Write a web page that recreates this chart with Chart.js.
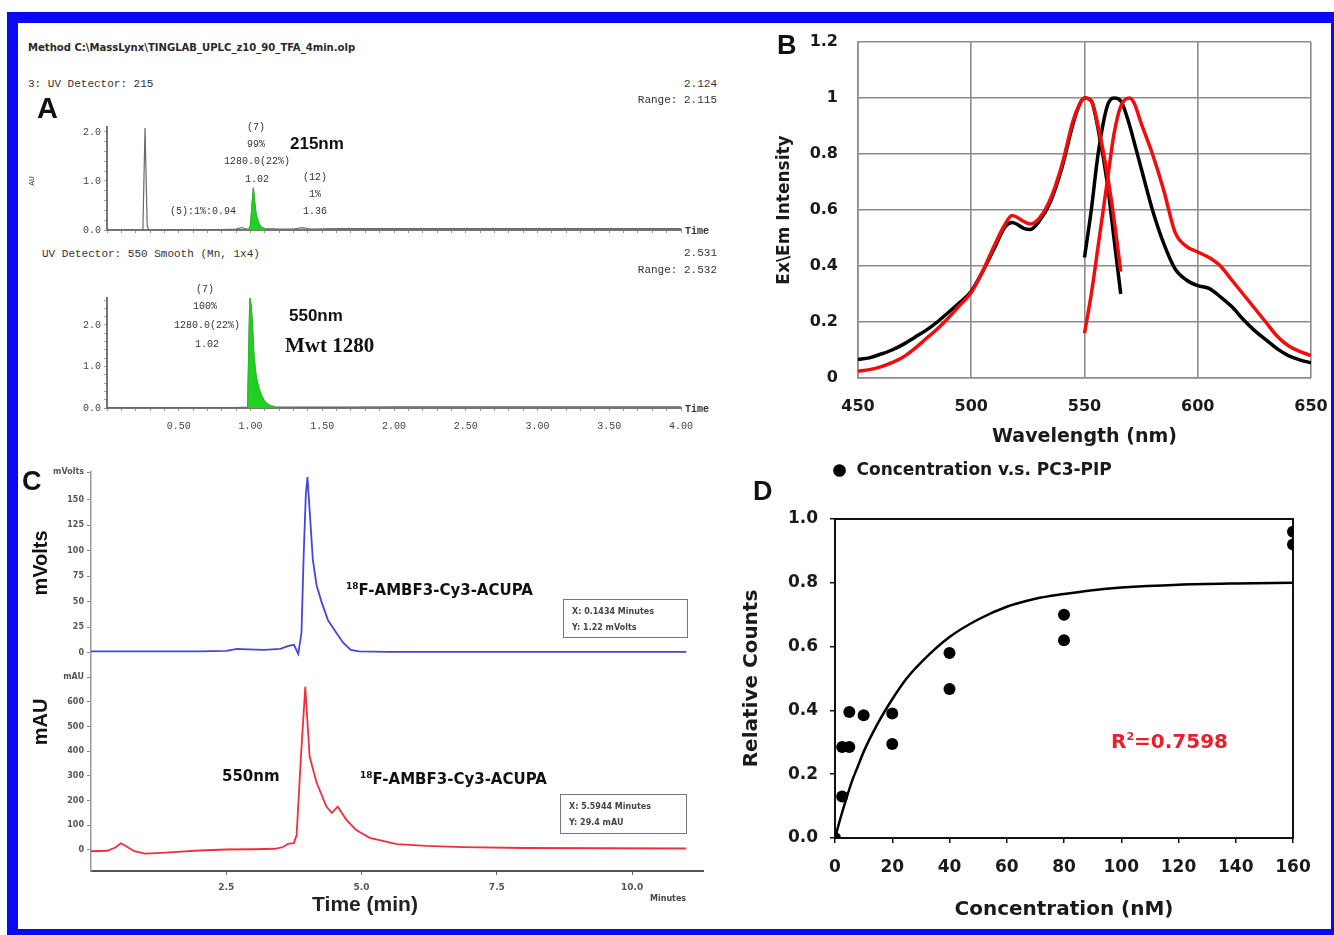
<!DOCTYPE html>
<html>
<head>
<meta charset="utf-8">
<script src="https://cdn.jsdelivr.net/npm/chart.js@4.4.1/dist/chart.umd.min.js"></script>
<style>
  html,body{margin:0;padding:0;background:#fff;}
  body{width:1334px;height:935px;position:relative;overflow:hidden;font-family:"Liberation Sans",Arial,sans-serif;}
  .frame{position:absolute;left:7px;top:12px;width:1327px;height:923px;box-sizing:border-box;border-style:solid;border-color:#0a0af0;border-width:11px 3px 6px 11px;z-index:5;pointer-events:none;}
  canvas{position:absolute;}
  .t{position:absolute;white-space:nowrap;line-height:1;z-index:3;}
  .box{position:absolute;border:1.5px solid #777;box-sizing:border-box;z-index:3;}
</style>
</head>
<body>
<div class="frame"></div>
<script>
// ---------------- DATA ----------------
// Panel A : UPLC, UV 215 nm trace (time in min, AU)
const a215Time = [0, 0.25, 0.265, 0.28, 0.29, 0.4, 0.6, 0.8, 0.9, 0.94, 0.97, 0.99, 1.00, 1.01, 1.02, 1.03, 1.04, 1.06, 1.08, 1.10, 1.2, 1.3, 1.36, 1.42, 1.6, 2.0, 2.5, 3.0, 3.5, 4.0];
const a215Abs  = [0, 0, 2.08, 0.10, 0, 0.01, 0.01, 0.01, 0.02, 0.05, 0.02, 0.02, 0.10, 0.50, 0.86, 0.55, 0.30, 0.12, 0.05, 0.03, 0.02, 0.02, 0.05, 0.02, 0.03, 0.03, 0.03, 0.03, 0.03, 0.03];
// Panel A : UV 550 nm trace
const a550Time = [0, 0.5, 0.9, 0.98, 0.995, 1.005, 1.015, 1.025, 1.04, 1.06, 1.08, 1.10, 1.13, 1.17, 1.3, 1.6, 2.0, 2.5, 3.0, 3.5, 4.0];
const a550Abs  = [0.01, 0.01, 0.01, 0.02, 2.65, 2.45, 1.90, 1.20, 0.75, 0.45, 0.28, 0.15, 0.07, 0.03, 0.02, 0.02, 0.03, 0.03, 0.03, 0.03, 0.03];
const aTimeTickLabels = ['0.50', '1.00', '1.50', '2.00', '2.50', '3.00', '3.50', '4.00'];
const aAbsTickLabels = ['0.0', '1.0', '2.0'];

// Panel B : excitation / emission spectra
const bExWl = [450,455,460,465,470,475,480,485,490,495,500,505,510,515,518,520,523,526,530,535,540,545,548,550,553,556,560,563,566];
const bExBlack = [0.066,0.072,0.085,0.10,0.12,0.145,0.17,0.20,0.235,0.27,0.31,0.38,0.46,0.54,0.555,0.55,0.535,0.53,0.56,0.63,0.75,0.91,0.98,1.0,0.99,0.89,0.70,0.50,0.30];
const bExRed   = [0.024,0.03,0.04,0.055,0.075,0.105,0.14,0.175,0.215,0.26,0.305,0.38,0.47,0.55,0.58,0.575,0.56,0.55,0.57,0.64,0.76,0.92,0.98,1.0,0.99,0.90,0.73,0.57,0.38];
const bEmWl = [550,553,556,560,563,566,570,572,575,580,585,590,595,600,605,610,615,620,625,630,635,640,645,650];
const bEmBlack = [0.43,0.60,0.80,0.97,1.0,0.99,0.90,0.84,0.75,0.60,0.48,0.39,0.35,0.33,0.32,0.29,0.255,0.21,0.17,0.137,0.105,0.08,0.065,0.054];
const bEmRed   = [0.16,0.30,0.47,0.70,0.87,0.97,1.0,0.98,0.91,0.80,0.67,0.52,0.47,0.45,0.43,0.40,0.35,0.30,0.25,0.20,0.15,0.115,0.095,0.08];

// Panel C : radio-HPLC (mVolts) and UV 550 nm (mAU)
const cBlueTime = [0, 0.5, 1.0, 1.5, 2.0, 2.5, 2.7, 2.9, 3.2, 3.5, 3.65, 3.75, 3.83, 3.89, 3.93, 3.97, 4.0, 4.04, 4.1, 4.17, 4.26, 4.38, 4.53, 4.66, 4.8, 4.95, 5.5, 6.5, 8.0, 9.5, 11.0];
const cBlueMv   = [1.5, 1.5, 1.5, 1.5, 1.5, 2, 4, 3.5, 3, 4, 7, 8, -1, 20, 95, 155, 172, 140, 91, 66, 50, 32, 20, 10, 3, 1.5, 1, 1, 1, 1, 1];
const cRedTime = [0, 0.3, 0.45, 0.55, 0.65, 0.8, 1.0, 1.3, 1.6, 2.0, 2.5, 3.0, 3.4, 3.55, 3.64, 3.75, 3.8, 3.88, 3.96, 4.04, 4.17, 4.35, 4.45, 4.56, 4.72, 4.9, 5.15, 5.65, 6.2, 6.87, 8.0, 9.5, 11.0];
const cRedMau  = [-5, -3, 10, 27, 15, -5, -15, -12, -8, -2, 2, 3, 5, 12, 25, 28, 60, 380, 660, 378, 272, 176, 150, 175, 122, 81, 49, 24, 17, 12, 8, 7, 6];
const cMvTicks = [0, 25, 50, 75, 100, 125, 150];
const cMauTicks = [0, 100, 200, 300, 400, 500, 600];
const cTimeTicks = [2.5, 5.0, 7.5, 10.0];

// Panel D : binding data and fitted curve
const dConc   = [0, 2.5, 2.5, 5, 5, 10, 20, 20, 40, 40, 80, 80, 160, 160];
const dCounts = [0, 0.13, 0.285, 0.285, 0.395, 0.385, 0.39, 0.295, 0.58, 0.467, 0.70, 0.62, 0.96, 0.92];
const dFitConc   = [0, 2, 4, 6, 8, 10, 15, 20, 25, 30, 40, 50, 60, 70, 80, 90, 100, 120, 140, 160];
const dFitCounts = [0, 0.065, 0.125, 0.18, 0.225, 0.27, 0.36, 0.435, 0.50, 0.55, 0.63, 0.685, 0.725, 0.75, 0.765, 0.777, 0.785, 0.794, 0.798, 0.80];

// ---------------- HELPERS ----------------
const xy = (xs, ys) => xs.map((x, i) => ({x: x, y: ys[i]}));
const steps = (n, d) => Array.from({length: n + 1}, (_, i) => +(i * d).toFixed(3)); // minor tick positions
function mkCanvas(left, top, w, h) {
  const c = document.createElement('canvas');
  c.width = w; c.height = h;
  c.style.left = left + 'px'; c.style.top = top + 'px';
  c.style.width = w + 'px'; c.style.height = h + 'px';
  document.body.appendChild(c);
  return c.getContext('2d');
}
function T(html, x, y, anchor, css, rot) {
  const d = document.createElement('div');
  d.className = 't';
  d.innerHTML = html;
  d.style.cssText += 'left:' + x + 'px;top:' + y + 'px;' + (css || '');
  const tx = anchor === 'l' ? '0' : (anchor === 'r' ? '-100%' : '-50%');
  d.style.transform = 'translate(' + tx + ',-50%)' + (rot ? ' rotate(-90deg)' : '');
  document.body.appendChild(d);
}
function Box(x, y, w, h, lines) {
  const b = document.createElement('div');
  b.className = 'box';
  b.style.left = x + 'px'; b.style.top = y + 'px'; b.style.width = w + 'px'; b.style.height = h + 'px';
  document.body.appendChild(b);
  lines.forEach((s, i) => T(s, x + 9, y + 13 + i * 16, 'l', SMALLB));
}
const fixW = w => s => { s.width = w; };
const fixH = h => s => { s.height = h; };
const setTicks = vals => s => { s.ticks = vals.map(v => ({value: v})); };
const base = {responsive: false, animation: false, devicePixelRatio: 1, maintainAspectRatio: false,
  plugins: {legend: {display: false}, tooltip: {enabled: false}}};
const MONO = "font-family:'Liberation Mono','DejaVu Sans Mono',monospace;font-size:11px;color:#333;";
const MONOS = "font-family:'Liberation Mono','DejaVu Sans Mono',monospace;font-size:10px;color:#333;";
const SMALLB = "font-family:'DejaVu Sans',sans-serif;font-weight:bold;font-size:8px;color:#444;";
const DJB = "font-family:'DejaVu Sans',sans-serif;font-weight:bold;color:#111;";
const ARB = "font-family:'Liberation Sans',Arial,sans-serif;font-weight:bold;color:#111;";
const monoFont = {family: "'Liberation Mono', 'DejaVu Sans Mono', monospace", size: 10};

// ---------------- PANEL A (UPLC) ----------------
const aAxis = (extra) => Object.assign({
  type: 'linear',
  border: {display: true, color: '#777', width: 2},
  grid: {drawOnChartArea: false, drawTicks: true, tickLength: 3, color: '#9a9a9a', lineWidth: 1}
}, extra);
const aTimeLabel = v => { const s = v.toFixed(2); return aTimeTickLabels.includes(s) ? s : ''; };
const aAbsLabel = v => { const s = v.toFixed(1); return aAbsTickLabels.includes(s) ? s : ''; };

const a1Ctx = mkCanvas(20, 100, 710, 145);
new Chart(a1Ctx, {
  type: 'line',
  data: {datasets: [
    {data: xy(a215Time, a215Abs).filter(p => p.x >= 0.99 && p.x <= 1.10), borderColor: '#1fc41f', backgroundColor: '#22d022', borderWidth: 1, fill: 'origin', pointRadius: 0},
    {data: xy(a215Time, a215Abs), borderColor: '#6a6a6a', borderWidth: 1.2, fill: false, pointRadius: 0}
  ]},
  options: Object.assign({}, base, {
    layout: {padding: {top: 27, right: 49, left: 0, bottom: 0}},
    scales: {
      x: aAxis({min: 0, max: 4, afterFit: fixH(15), afterBuildTicks: setTicks(steps(40, 0.1)),
        ticks: {display: false, autoSkip: false}}),
      y: aAxis({min: 0, max: 2.1, afterFit: fixW(87), afterBuildTicks: setTicks(steps(10, 0.2)),
        ticks: {autoSkip: false, font: monoFont, color: '#444', padding: 3, callback: aAbsLabel}})
    }
  })
});

const a2Ctx = mkCanvas(20, 280, 710, 160);
new Chart(a2Ctx, {
  type: 'line',
  data: {datasets: [
    {data: xy(a550Time, a550Abs).filter(p => p.x >= 0.98 && p.x <= 1.17), borderColor: '#1fc41f', backgroundColor: '#22d022', borderWidth: 1, fill: 'origin', pointRadius: 0},
    {data: xy(a550Time, a550Abs), borderColor: '#6a6a6a', borderWidth: 1.2, fill: false, pointRadius: 0}
  ]},
  options: Object.assign({}, base, {
    layout: {padding: {top: 18, right: 49, left: 0, bottom: 0}},
    scales: {
      x: aAxis({min: 0, max: 4, afterFit: fixH(32), afterBuildTicks: setTicks(steps(40, 0.1)),
        ticks: {autoSkip: false, maxRotation: 0, minRotation: 0, font: monoFont, color: '#444', padding: 9, callback: aTimeLabel}}),
      y: aAxis({min: 0, max: 2.65, afterFit: fixW(87), afterBuildTicks: setTicks(steps(13, 0.2)),
        ticks: {autoSkip: false, font: monoFont, color: '#444', padding: 3, callback: aAbsLabel}})
    }
  })
});

T('Method C:\\MassLynx\\TINGLAB_UPLC_z10_90_TFA_4min.olp', 28, 48, 'l', "font-family:'DejaVu Sans Condensed','DejaVu Sans',sans-serif;font-weight:bold;font-size:11.2px;color:#2a2a2a;");
T('3: UV Detector: 215', 28, 84, 'l', MONO);
T('2.124', 717, 84, 'r', MONO);
T('Range: 2.115', 717, 100, 'r', MONO);
T('A', 37, 108, 'l', ARB + 'font-size:29px;');
T('AU', 32, 181, 'c', MONOS + 'font-size:8px;', true);
T('(7)', 256, 128, 'c', MONOS);
T('99%', 256, 145, 'c', MONOS);
T('1280.0(22%)', 257, 162, 'c', MONOS);
T('1.02', 257, 180, 'c', MONOS);
T('215nm', 290, 143, 'l', ARB + 'font-size:17px;');
T('(5):1%:0.94', 170, 212, 'l', MONOS);
T('(12)', 315, 178, 'c', MONOS);
T('1%', 315, 195, 'c', MONOS);
T('1.36', 315, 212, 'c', MONOS);
T('Time', 685, 232, 'l', MONOS + 'font-weight:bold;');
T('UV Detector: 550 Smooth (Mn, 1x4)', 42, 254, 'l', MONO);
T('2.531', 717, 253, 'r', MONO);
T('Range: 2.532', 717, 270, 'r', MONO);
T('(7)', 205, 290, 'c', MONOS);
T('100%', 205, 307, 'c', MONOS);
T('1280.0(22%)', 207, 326, 'c', MONOS);
T('1.02', 207, 345, 'c', MONOS);
T('550nm', 289, 315, 'l', ARB + 'font-size:17px;');
T('Mwt 1280', 285, 345, 'l', "font-family:'Liberation Serif','Times New Roman',serif;font-weight:bold;font-size:21px;color:#111;");
T('Time', 685, 410, 'l', MONOS + 'font-weight:bold;');

// ---------------- PANEL B (spectra) ----------------
const djFont = (s) => ({family: "'DejaVu Sans', sans-serif", weight: 'bold', size: s});
const bCtx = mkCanvas(770, 30, 560, 425);
new Chart(bCtx, {
  type: 'line',
  data: {datasets: [
    {label: 'Ex (red)', data: xy(bExWl, bExRed), borderColor: '#f20d0d', borderWidth: 3.5, pointRadius: 0, cubicInterpolationMode: 'monotone'},
    {label: 'Em (red)', data: xy(bEmWl, bEmRed), borderColor: '#f20d0d', borderWidth: 3.5, pointRadius: 0, cubicInterpolationMode: 'monotone'},
    {label: 'Ex (black)', data: xy(bExWl, bExBlack), borderColor: '#000000', borderWidth: 3.5, pointRadius: 0, cubicInterpolationMode: 'monotone'},
    {label: 'Em (black)', data: xy(bEmWl, bEmBlack), borderColor: '#000000', borderWidth: 3.5, pointRadius: 0, cubicInterpolationMode: 'monotone'}
  ]},
  options: Object.assign({}, base, {
    layout: {padding: {top: 12, right: 19, left: 0, bottom: 0}},
    scales: {
      x: {type: 'linear', min: 450, max: 650, afterFit: fixH(77),
        ticks: {stepSize: 50, font: djFont(16), color: '#1a1a1a', padding: 2, maxRotation: 0},
        grid: {color: '#8c8c8c', lineWidth: 1.6, drawTicks: true, tickLength: 17, tickColor: 'rgba(0,0,0,0)'},
        border: {display: true, color: '#8c8c8c', width: 1.6},
        title: {display: true, text: 'Wavelength (nm)', font: djFont(19), color: '#1a1a1a', padding: {top: 4, bottom: 7}}},
      y: {type: 'linear', min: 0, max: 1.2, afterFit: fixW(88),
        ticks: {stepSize: 0.2, font: djFont(16), color: '#1a1a1a', padding: 2, callback: v => String(Number(v.toFixed(1)))},
        grid: {color: '#8c8c8c', lineWidth: 1.6, drawTicks: true, tickLength: 18, tickColor: 'rgba(0,0,0,0)'},
        border: {display: true, color: '#8c8c8c', width: 1.6},
        title: {display: true, text: 'Ex\\Em Intensity', font: djFont(17), color: '#1a1a1a', padding: {top: 4, bottom: 4}}}
    }
  })
});
T('B', 777, 45, 'l', ARB + 'font-size:27px;');

// ---------------- PANEL C (HPLC) ----------------
const cTickFont = {family: "'DejaVu Sans', sans-serif", weight: 'bold', size: 8};
const c1Ctx = mkCanvas(20, 462, 700, 223);
new Chart(c1Ctx, {
  type: 'line',
  data: {datasets: [{data: xy(cBlueTime, cBlueMv), borderColor: '#4646dc', borderWidth: 1.8, pointRadius: 0}]},
  options: Object.assign({}, base, {
    layout: {padding: {top: 10, right: 17, left: 0, bottom: 8}},
    scales: {
      x: {type: 'linear', min: 0, max: 11.31, display: false},
      y: {type: 'linear', min: -23.5, max: 177, afterFit: fixW(71),
        afterBuildTicks: s => { s.ticks = cMvTicks.concat([s.max]).map(v => ({value: v})); },
        ticks: {font: cTickFont, color: '#555', padding: 3, callback: v => (v > 160 ? 'mVolts' : String(v))},
        grid: {drawOnChartArea: false, tickLength: 4, color: '#888'},
        border: {display: true, color: '#999', width: 1.5}}
    }
  })
});
const c2Ctx = mkCanvas(20, 667, 700, 260);
new Chart(c2Ctx, {
  type: 'line',
  data: {datasets: [{data: xy(cRedTime, cRedMau), borderColor: '#ec3040', borderWidth: 1.8, pointRadius: 0}]},
  options: Object.assign({}, base, {
    layout: {padding: {top: 10, right: 17, left: 0, bottom: 0}},
    scales: {
      x: {type: 'linear', min: 0, max: 11.31, afterFit: fixH(56),
        afterBuildTicks: setTicks(cTimeTicks),
        ticks: {font: {family: "'DejaVu Sans', sans-serif", weight: 'bold', size: 9}, color: '#555', padding: 7, maxRotation: 0, callback: v => v.toFixed(1)},
        grid: {drawOnChartArea: false, tickLength: 4, color: '#666'},
        border: {display: true, color: '#555', width: 2}},
      y: {type: 'linear', min: -85, max: 700, afterFit: fixW(71),
        afterBuildTicks: s => { s.ticks = cMauTicks.concat([s.max]).map(v => ({value: v})); },
        ticks: {font: cTickFont, color: '#555', padding: 3, callback: v => (v >= 700 ? 'mAU' : String(v))},
        grid: {drawOnChartArea: false, tickLength: 4, color: '#888'},
        border: {display: true, color: '#999', width: 1.5}}
    }
  })
});
T('C', 22, 481, 'l', ARB + 'font-size:27px;');
T('mVolts', 40, 563, 'c', ARB + 'font-size:20px;', true);
T('mAU', 40, 722, 'c', ARB + 'font-size:20px;', true);
T('<sup style="font-size:9px;">18</sup>F-AMBF3-Cy3-ACUPA', 346, 590, 'l', DJB + 'font-size:15px;');
T('<sup style="font-size:9px;">18</sup>F-AMBF3-Cy3-ACUPA', 360, 779, 'l', DJB + 'font-size:15px;');
T('550nm', 222, 776, 'l', DJB + 'font-size:15px;');
Box(563, 599, 125, 39, ['X: 0.1434 Minutes', 'Y: 1.22 mVolts']);
Box(560, 794, 127, 40, ['X: 5.5944 Minutes', 'Y: 29.4 mAU']);
T('Time (min)', 365, 903, 'c', ARB + 'font-size:21px;color:#222;');
T('Minutes', 650, 899, 'l', SMALLB);

// ---------------- PANEL D (binding) ----------------
const dLegendPlace = {
  id: 'dLegendPlace',
  beforeLayout(chart) {
    const lg = chart.legend;
    if (lg && !lg._patched) {
      const orig = lg.fit.bind(lg);
      lg.fit = function () { orig(); this.height = 63; };
      lg._patched = true;
    }
  },
  afterLayout(chart) {
    const lg = chart.legend;
    if (lg) { lg.left -= 10; lg.right -= 10; }
  }
};
const dFrame = {
  id: 'dFrame',
  beforeDatasetsDraw(chart) {
    const a = chart.chartArea, ctx = chart.ctx;
    ctx.save(); ctx.strokeStyle = '#111'; ctx.lineWidth = 2;
    ctx.strokeRect(a.left, a.top, a.right - a.left, a.bottom - a.top);
    ctx.restore();
  }
};
const dCtx = mkCanvas(735, 456, 593, 469);
new Chart(dCtx, {
  type: 'scatter',
  data: {datasets: [
    {label: 'Concentration v.s. PC3-PIP', data: xy(dConc, dCounts), pointStyle: 'circle', pointRadius: 6, backgroundColor: '#000', borderColor: '#000', borderWidth: 0},
    {type: 'line', label: 'fit', data: xy(dFitConc, dFitCounts), borderColor: '#000', borderWidth: 2.5, pointRadius: 0, fill: false, cubicInterpolationMode: 'monotone'}
  ]},
  plugins: [dLegendPlace, dFrame],
  options: Object.assign({}, base, {
    layout: {padding: {top: 0, right: 35, left: 0, bottom: 0}},
    plugins: {
      tooltip: {enabled: false},
      legend: {display: true, position: 'top', align: 'start', fullSize: false,
        labels: {usePointStyle: true, boxWidth: 17, boxHeight: 9, padding: 6, color: '#1a1a1a',
          font: djFont(17), filter: item => item.datasetIndex === 0}}
    },
    scales: {
      x: {type: 'linear', min: 0, max: 160, afterFit: fixH(87),
        ticks: {stepSize: 20, font: djFont(17), color: '#1a1a1a', padding: 14, maxRotation: 0},
        grid: {drawOnChartArea: false, tickLength: 5, color: '#111', lineWidth: 1.5},
        border: {display: true, color: '#111', width: 2},
        title: {display: true, text: 'Concentration (nM)', font: djFont(20), color: '#1a1a1a', padding: {top: 4, bottom: 3}}},
      y: {type: 'linear', min: 0, max: 1.0, afterFit: fixW(100),
        ticks: {stepSize: 0.2, font: djFont(17), color: '#1a1a1a', padding: 12, callback: v => v.toFixed(1)},
        grid: {drawOnChartArea: false, tickLength: 5, color: '#111', lineWidth: 1.5},
        border: {display: true, color: '#111', width: 2},
        title: {display: true, text: 'Relative Counts', font: djFont(20), color: '#1a1a1a', padding: {top: 5, bottom: 4}}}
    }
  })
});
T('D', 753, 491, 'l', ARB + 'font-size:27px;');
T('R<sup style="font-size:11px;">2</sup>=0.7598', 1111, 741, 'l', DJB + 'font-size:20px;color:#e8202c;');
</script>
</body>
</html>
